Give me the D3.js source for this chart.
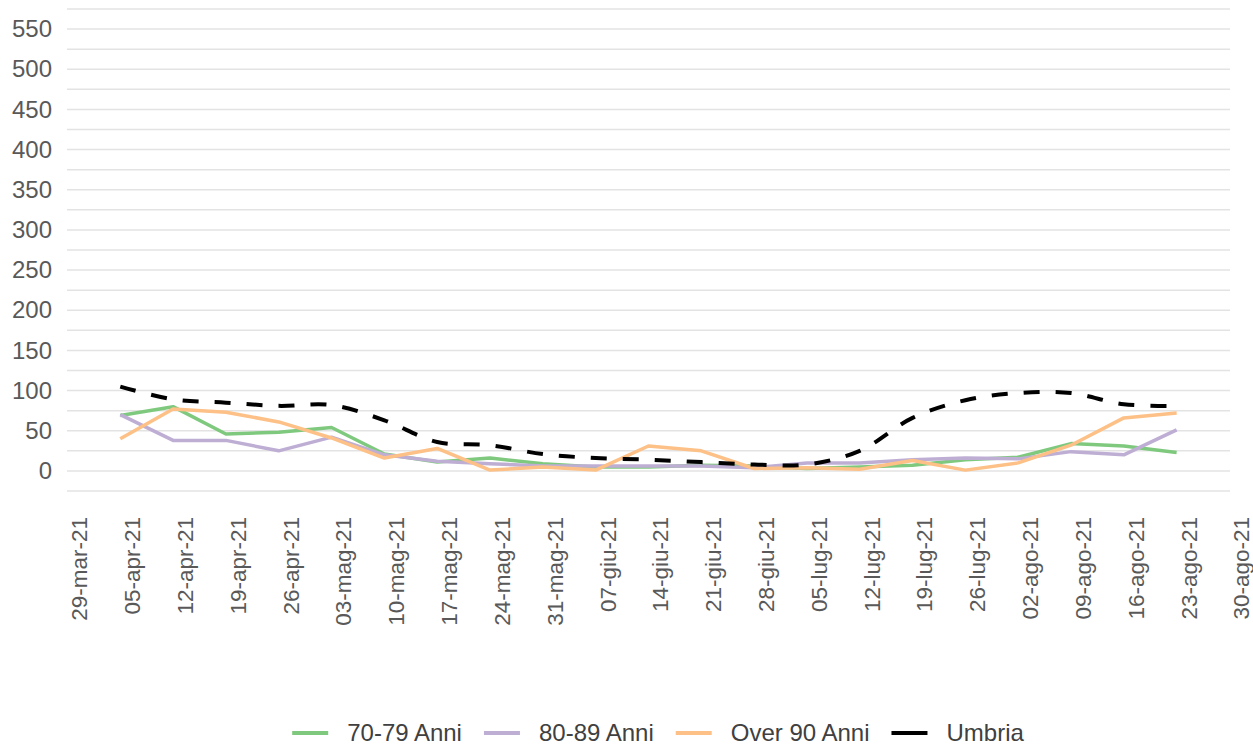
<!DOCTYPE html>
<html>
<head>
<meta charset="utf-8">
<script src="https://cdn.jsdelivr.net/npm/d3@7"></script>
<style>
  html, body { margin: 0; padding: 0; background: #fff; }
  svg { display: block; font-family: "Liberation Sans", Arial, sans-serif; }
</style>
</head>
<body>
<svg id="chart" width="1253" height="746"></svg>
<script>
// ---- data ----
const weekDates = ["2021-04-04","2021-04-11","2021-04-18","2021-04-25","2021-05-02","2021-05-09",
  "2021-05-16","2021-05-23","2021-05-30","2021-06-06","2021-06-13","2021-06-20","2021-06-27",
  "2021-07-04","2021-07-11","2021-07-18","2021-07-25","2021-08-01","2021-08-08","2021-08-15","2021-08-22"];
const anni7079  = [69, 80, 46, 48, 54, 21, 11, 16, 9, 5, 5, 7, 6, 3, 5, 7, 14, 17, 34, 31, 23];
const anni8089  = [70, 38, 38, 25, 42, 20, 12, 9, 6, 6, 6, 6, 4, 10, 10, 14, 16, 15, 24, 20, 51];
const over90    = [40, 77, 73, 61, 41, 16, 28, 1, 5, 1, 31, 25, 3, 4, 2, 13, 1, 10, 32, 66, 72];
const umbria    = [105, 89, 85, 81, 82, 63, 36, 32, 21, 16, 14, 11, 8, 8, 25, 66, 88, 97, 97, 83, 81];
const seriesNames = ["70-79 Anni", "80-89 Anni", "Over 90 Anni", "Umbria"];
const xTickLabels = ["29-mar-21","05-apr-21","12-apr-21","19-apr-21","26-apr-21","03-mag-21","10-mag-21",
  "17-mag-21","24-mag-21","31-mag-21","07-giu-21","14-giu-21","21-giu-21","28-giu-21","05-lug-21",
  "12-lug-21","19-lug-21","26-lug-21","02-ago-21","09-ago-21","16-ago-21","23-ago-21","30-ago-21"];
const yTickValues = [0, 50, 100, 150, 200, 250, 300, 350, 400, 450, 500, 550];
const yGridValues = d3.range(-25, 576, 25);

// ---- helpers ----
const monthIdx = {gen:0,feb:1,mar:2,apr:3,mag:4,giu:5,lug:6,ago:7,set:8,ott:9,nov:10,dic:11};
function parseIt(s) {
  const [d, m, y] = s.split("-");
  return new Date(2000 + (+y), monthIdx[m], +d);
}
const parseISO = d3.timeParse("%Y-%m-%d");
const tickDates = xTickLabels.map(parseIt);
const dates = weekDates.map(parseISO);

const svg = d3.select("#chart");
const x = d3.scaleTime()
  .domain([tickDates[0], tickDates[tickDates.length - 1]])
  .range([75, 1237]);
const y = d3.scaleLinear().domain([-25, 575]).range([491, 9]);

// grid
svg.append("g").selectAll("line").data(yGridValues).join("line")
  .attr("x1", 67).attr("x2", 1230)
  .attr("y1", d => y(d)).attr("y2", d => y(d))
  .attr("stroke", "#e3e3e3").attr("stroke-width", 1.5);

// y axis labels
const yAxis = d3.axisLeft(y).tickValues(yTickValues).tickSize(0).tickPadding(0);
const gy = svg.append("g").attr("transform", "translate(52,0)").call(yAxis);
gy.select(".domain").remove();
gy.selectAll("text").attr("font-size", 24).attr("fill", "#595959")
  .attr("font-family", "'Liberation Sans', Arial, sans-serif");

// x axis labels
const xAxis = d3.axisBottom(x).tickValues(tickDates)
  .tickFormat((d, i) => xTickLabels[i]).tickSize(0).tickPadding(0);
const gx = svg.append("g").attr("transform", "translate(0,517)").call(xAxis);
gx.select(".domain").remove();
gx.selectAll("text")
  .attr("font-size", 22.5).attr("fill", "#595959")
  .attr("font-family", "'Liberation Sans', Arial, sans-serif")
  .attr("text-anchor", "end")
  .attr("transform", "translate(4,0) rotate(-90)")
  .attr("x", 0).attr("y", 0).attr("dy", "0.35em");

// lines
const colors = ["#7fc97f", "#beaed4", "#fdc086", "#000000"];
const allSeries = [anni7079, anni8089, over90, umbria];
const lineStraight = d3.line()
  .x((d, i) => x(dates[i]))
  .y(d => y(d));
const lineSmooth = d3.line()
  .x((d, i) => x(dates[i]))
  .y(d => y(d))
  .curve(d3.curveCatmullRom.alpha(0.5));

allSeries.forEach((vals, k) => {
  svg.append("path")
    .datum(vals)
    .attr("d", k === 3 ? lineSmooth : lineStraight)
    .attr("fill", "none")
    .attr("stroke", colors[k])
    .attr("stroke-width", k === 3 ? 4 : 3.5)
    .attr("stroke-dasharray", k === 3 ? "16,16" : null)
    .attr("stroke-linejoin", "round");
});

// legend
const legend = svg.append("g");
const items = legend.selectAll("g").data(seriesNames).join("g");
items.append("line")
  .attr("x1", 0).attr("x2", 36).attr("y1", 0).attr("y2", 0)
  .attr("stroke", (d, i) => colors[i]).attr("stroke-width", 4);
items.append("text")
  .attr("x", 55).attr("y", 0).attr("dy", "0.35em")
  .attr("font-size", 24).attr("fill", "#404040")
  .text(d => d);
const widths = [];
items.each(function(d, i) {
  const w = 55 + d3.select(this).select("text").node().getComputedTextLength();
  widths.push(w);
});
const gap = 22;
const total = d3.sum(widths) + gap * (widths.length - 1);
let start = 658 - total / 2;
items.attr("transform", (d, i) => {
  const t = `translate(${start},733)`;
  start += widths[i] + gap;
  return t;
});
</script>
</body>
</html>
